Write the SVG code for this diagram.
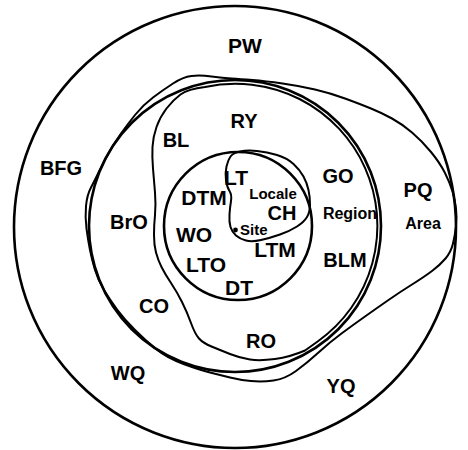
<svg xmlns="http://www.w3.org/2000/svg" width="468" height="450" viewBox="0 0 468 450">
<style>
.ln{fill:none;stroke:#000;stroke-linejoin:round;stroke-linecap:round}
.c{stroke-width:2.6}
.f{stroke-width:2}
text{font-family:"Liberation Sans",Arial,Helvetica,sans-serif;font-weight:bold;fill:#000;text-anchor:middle}
.b{font-size:20px}
.s{font-size:16px}
</style>
<rect width="468" height="450" fill="#fff"/>
<g id="boundaries">
<circle id="outer" class="ln c" cx="235" cy="227" r="221"/>
<circle id="region-circle" class="ln c" cx="235" cy="226" r="146"/>
<circle id="locale-circle" class="ln c" cx="238" cy="226" r="74"/>
<path id="area-line" class="ln f" d="M211.5,76.5 Q223,78 231.5,78.5 Q240,79 252.5,80 Q265,81 282.5,83.5 Q300,86 315,89.5 Q330,93 345,98.5 Q360,104 371,108.5 Q382,113 392,118.5 Q402,124 412,132.5 Q422,141 431,152 Q440,163 445,173 Q450,183 452.5,191.5 Q455,200 456,208.5 Q457,217 456,226 Q455,235 453,243.5 Q451,252 445.5,258.5 Q440,265 432,271 Q424,277 412,284.5 Q400,292 388.5,300 Q377,308 365,316.5 Q353,325 341.5,333.5 Q330,342 318.5,352.5 Q307,363 296,371 Q285,379 273.5,380.5 Q262,382 251,381 Q240,380 230,377.5 Q220,375 210,372.5 Q200,370 183.5,364 Q167,358 156,349 Q145,340 135,330 Q125,320 117.5,310 Q110,300 104,290 Q98,280 95,270 Q92,260 90,250 Q88,240 86.5,228.5 Q85,217 86,206 Q87,195 91,187.5 Q95,180 99,171.5 Q103,163 109,152.5 Q115,142 121,133.5 Q127,125 135,115 Q143,105 153,97.5 Q163,90 173,83.5 Q183,77 191.5,76 Q200,75 211.5,76.5 Z"/>
<path id="bl-line" class="ln f" d="M205,87 Q188,89 180.5,94.5 Q173,100 166.5,108.5 Q160,117 156.5,127 Q153,137 152.5,147 Q152,157 153,168.5 Q154,180 155,192.5 Q156,205 155,215 Q154,225 154,235 Q154,245 156,252.5 Q158,260 161.5,267 Q165,274 171,283 Q177,292 182,302 Q187,312 191,323 Q195,334 199,338.5 Q203,343 211.5,346.5 Q220,350 230,354 Q240,358 250,359.5 Q260,361 275,359 Q290,357 305,350.5 L318,341.2 A142,142 0 0 0 205,87 Z"/>
<path id="ch-line" class="ln f" d="M230.5,156.5 Q233,153 240,151.5 Q247,150 257,151 Q267,152 277,155 Q287,158 293.5,164 Q300,170 303.5,176.5 Q307,183 308.5,190 Q310,197 310,204.5 Q310,212 307,217 Q304,222 297,226.5 Q290,231 280,234.5 Q270,238 261,240 Q252,242 246,240.5 Q240,239 236,235.5 Q232,232 230.5,227 Q229,222 229.5,214.5 Q230,207 231,201 Q232,195 229.5,191 Q227,187 226,180 Q225,173 226.5,166.5 Q228,160 230.5,156.5 Z"/>
<circle id="site-dot" cx="235.5" cy="230" r="2.4" fill="#000"/>
</g>
<g id="labels">
<text class="b" x="245" y="53" style="font-size:21px">PW</text>
<text class="b" x="244" y="128">RY</text>
<text class="b" x="176" y="147">BL</text>
<text class="b" x="61" y="175">BFG</text>
<text class="b" x="338" y="183">GO</text>
<text class="b" x="418" y="197">PQ</text>
<text class="s" x="423" y="229">Area</text>
<text class="s" x="350" y="219">Region</text>
<text class="b" x="236" y="185" style="font-size:21px">LT</text>
<text class="b" x="204" y="205" style="font-size:21px">DTM</text>
<text class="b" x="273" y="199" style="font-size:15px">Locale</text>
<text class="b" x="282" y="220" style="font-size:20px">CH</text>
<text x="240" y="235" style="font-size:15px;text-anchor:start">Site</text>
<text class="b" x="194" y="242" style="font-size:21px">WO</text>
<text class="b" x="275" y="257" style="font-size:21px">LTM</text>
<text class="b" x="206" y="272" style="font-size:21px">LTO</text>
<text class="b" x="239" y="295" style="font-size:21px">DT</text>
<text class="b" x="129" y="229">BrO</text>
<text class="b" x="345" y="267">BLM</text>
<text class="b" x="154" y="313">CO</text>
<text class="b" x="261" y="348">RO</text>
<text class="b" x="128" y="380">WQ</text>
<text class="b" x="341" y="393">YQ</text>
</g>
</svg>
